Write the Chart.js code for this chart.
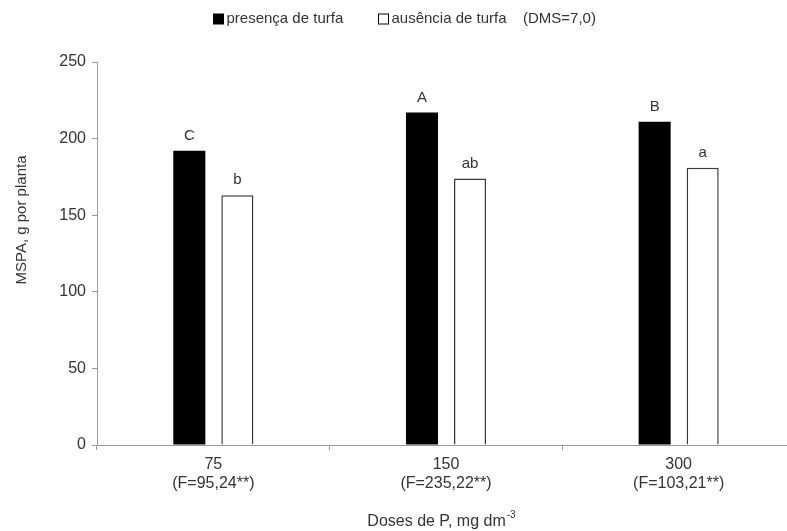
<!DOCTYPE html>
<html>
<head>
<meta charset="utf-8">
<script src="https://cdn.jsdelivr.net/npm/chart.js@4.4.0/dist/chart.umd.min.js"></script>
<style>
  html, body { margin: 0; padding: 0; background: #fff; overflow: hidden; }
  #box { position: absolute; left: 0; top: 0; width: 795px; height: 531px; }
</style>
</head>
<body>
<div id="box"><canvas id="grafico"></canvas></div>
<script>
var doses = [["75", "(F=95,24**)"], ["150", "(F=235,22**)"], ["300", "(F=103,21**)"]]
var presenca = [192, 217, 211]
var ausencia = [163, 174, 181]
var letrasPresenca = ["C", "A", "B"]
var letrasAusencia = ["b", "ab", "a"]
var yTicks = [0, 50, 100, 150, 200, 250]

var fonte = "'Liberation Sans', Arial, sans-serif"
var corTexto = "#333333"
var corEixo = "#9a9a9a"

Chart.defaults.font.family = fonte
Chart.defaults.font.size = 16
Chart.defaults.color = corTexto

var textos = {
    id: 'textos',
    afterDatasetsDraw: function (chart) {
        var ctx = chart.ctx
        ctx.save()
        ctx.fillStyle = corTexto
        ctx.font = "15px " + fonte
        ctx.textAlign = 'center'
        ctx.textBaseline = 'middle'
        var letras = [letrasPresenca, letrasAusencia]
        for (var d = 0; d < 2; d++) {
            chart.getDatasetMeta(d).data.forEach(function (bar, i) {
                ctx.fillText(letras[d][i], bar.x, bar.y - 15)
            })
        }
        // legenda
        var ds = chart.data.datasets
        var caixas = [213.5, 378.5]
        ctx.textAlign = 'left'
        for (var k = 0; k < 2; k++) {
            ctx.fillStyle = ds[k].backgroundColor
            ctx.fillRect(caixas[k], 14, 10, 10)
            ctx.strokeStyle = '#000000'
            ctx.lineWidth = 1
            ctx.strokeRect(caixas[k], 14, 10, 10)
            ctx.fillStyle = corTexto
            ctx.fillText(ds[k].label, caixas[k] + 13, 19)
        }
        ctx.fillText("(DMS=7,0)", 523, 19)
        // titulo eixo y
        ctx.save()
        ctx.textAlign = 'center'
        ctx.translate(22, 220)
        ctx.rotate(-Math.PI / 2)
        ctx.fillText("MSPA, g por planta", 0, 0)
        ctx.restore()
        // titulo eixo x
        var t1 = "Doses de P, mg dm"
        var sup = "-3"
        ctx.font = "16px " + fonte
        var w1 = ctx.measureText(t1).width
        ctx.font = "10px " + fonte
        var w2 = ctx.measureText(sup).width
        var x0 = 441 - (w1 + w2) / 2
        ctx.textAlign = 'left'
        ctx.font = "16px " + fonte
        ctx.fillText(t1, x0, 522)
        ctx.font = "10px " + fonte
        ctx.fillText(sup, x0 + w1 + 1, 515)
        ctx.restore()
    }
}

var ctxGrafico = document.getElementById("grafico")

var chartGraph = new Chart(ctxGrafico, {
    type: 'bar',
    data: {
        labels: doses,
        datasets: [{
            label: "presença de turfa",
            data: presenca,
            backgroundColor: '#000000',
            borderWidth: 0,
            categoryPercentage: 0.413,
            barPercentage: 0.667
        }, {
            label: "ausência de turfa",
            data: ausencia,
            backgroundColor: '#ffffff',
            borderColor: '#3a3a3a',
            borderWidth: 1.5,
            categoryPercentage: 0.413,
            barPercentage: 0.667
        }]
    },
    options: {
        responsive: true,
        maintainAspectRatio: false,
        animation: false,
        layout: { padding: { top: 0, right: 0, bottom: 0, left: 0 } },
        plugins: {
            legend: { display: false },
            tooltip: { enabled: false }
        },
        scales: {
            x: {
                grid: { offset: true, drawOnChartArea: false, tickLength: 5, color: corEixo },
                border: { color: corEixo, width: 1 },
                ticks: { padding: 5, font: { size: 16, lineHeight: 1.2 }, maxRotation: 0 },
                afterFit: function (scale) { scale.height = 86 }
            },
            y: {
                min: 0,
                max: 250,
                afterBuildTicks: function (scale) {
                    scale.ticks = yTicks.map(function (v) { return { value: v } })
                },
                grid: { drawOnChartArea: false, tickLength: 5, color: corEixo },
                border: { color: corEixo, width: 1 },
                ticks: { padding: 6, font: { size: 16 } },
                afterFit: function (scale) {
                    scale.width = 97
                    scale.paddingTop = 62
                }
            }
        }
    },
    plugins: [textos]
})
</script>
</body>
</html>
